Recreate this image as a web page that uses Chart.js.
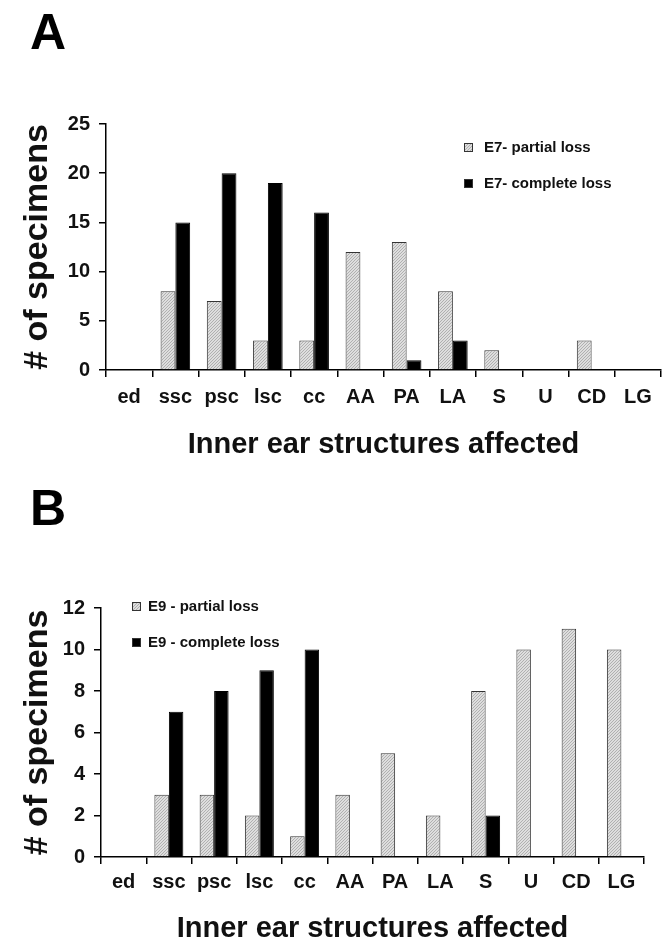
<!DOCTYPE html>
<html>
<head>
<meta charset="utf-8">
<script src="https://cdn.jsdelivr.net/npm/chart.js@4.4.1/dist/chart.umd.min.js"></script>
<style>
  html, body { margin: 0; padding: 0; background: #fff; }
  canvas { display: block; }
</style>
</head>
<body>
<canvas id="chartA" width="662" height="470"></canvas>
<canvas id="chartB" width="662" height="474"></canvas>
<script>
// data
const structures = ['ed', 'ssc', 'psc', 'lsc', 'cc', 'AA', 'PA', 'LA', 'S', 'U', 'CD', 'LG'];
const e7Partial  = [0, 8, 7, 3, 3, 12, 13, 8, 2, 0, 3, 0];
const e7Complete = [0, 15, 20, 19, 16, 0, 1, 3, 0, 0, 0, 0];
const e9Partial  = [0, 3, 3, 2, 1, 3, 5, 2, 8, 10, 11, 10];
const e9Complete = [0, 7, 8, 9, 10, 0, 0, 0, 2, 0, 0, 0];
const e7Max = 25, e7Step = 5;
const e9Max = 12, e9Step = 2;

const FONT = '"Liberation Sans", Arial, Helvetica, sans-serif';

// light grey stippled fill used for the "partial loss" bars
const hatchFor = (canvas) => {
    const tile = document.createElement('canvas');
    tile.width = 3; tile.height = 3;
    const g = tile.getContext('2d');
    g.fillStyle = '#dedede';
    g.fillRect(0, 0, 3, 3);
    g.fillStyle = '#b0b0b0';
    for (let i = 0; i < 3; i++) g.fillRect(i, 2 - i, 1, 1);
    return canvas.getContext('2d').createPattern(tile, 'repeat');
};

// panel letter + the small boxed legend
const panelDecor = {
    id: 'panelDecor',
    afterDraw(chart, args, opts) {
        const { ctx } = chart;
        ctx.save();
        ctx.fillStyle = '#000';
        ctx.textBaseline = 'middle';
        ctx.font = `bold 50px ${FONT}`;
        ctx.fillText(opts.letter, opts.letterX, opts.letterY);

        ctx.font = `bold 15px ${FONT}`;
        chart.data.datasets.forEach((ds, i) => {
            const y = opts.legendY + i * opts.legendGap;
            ctx.fillStyle = ds.backgroundColor;
            ctx.fillRect(opts.legendX, y - 4, 9, 9);
            ctx.strokeStyle = '#333';
            ctx.lineWidth = 1;
            ctx.strokeRect(opts.legendX + 0.5, y - 3.5, 8, 8);
            ctx.fillStyle = '#111';
            ctx.fillText(ds.label, opts.legendX + opts.textGap, y + 1);
        });
        ctx.restore();
    }
};

const makePanel = (id, cfg) => {
    const canvas = document.getElementById(id);
    const hatch = hatchFor(canvas);
    return new Chart(canvas, {
        type: 'bar',
        data: {
            labels: structures,
            datasets: [{
                label: cfg.partialLabel,
                data: cfg.partial,
                backgroundColor: hatch,
                borderColor: '#333',
                borderWidth: 1
            }, {
                label: cfg.completeLabel,
                data: cfg.complete,
                backgroundColor: '#000',
                borderColor: '#000',
                borderWidth: 1
            }]
        },
        options: {
            responsive: false,
            animation: false,
            devicePixelRatio: 1,
            categoryPercentage: 0.64,
            barPercentage: 1.0,
            layout: { padding: cfg.padding },
            plugins: {
                legend: { display: false },
                tooltip: { enabled: false },
                panelDecor: cfg.decor
            },
            scales: {
                x: {
                    afterFit: (scale) => { scale.height = cfg.xHeight; },
                    border: { display: true, color: '#000', width: 1.5 },
                    grid: { display: true, drawOnChartArea: false, drawTicks: true, tickLength: 7, color: '#000', lineWidth: 1.5 },
                    ticks: { color: '#111', padding: cfg.xTickPad, maxRotation: 0, font: { family: FONT, size: 20, weight: 'bold' } },
                    title: {
                        display: true,
                        text: 'Inner ear structures affected',
                        color: '#111',
                        font: { family: FONT, size: 29, weight: 'bold', lineHeight: 1 },
                        padding: { top: 0, bottom: cfg.xTitlePad }
                    }
                },
                y: {
                    min: 0,
                    max: cfg.max,
                    afterFit: (scale) => { scale.width = cfg.yWidth; },
                    border: { display: true, color: '#000', width: 1.5 },
                    grid: { display: true, drawOnChartArea: false, drawTicks: true, tickLength: 7, color: '#000', lineWidth: 1.5 },
                    ticks: { stepSize: cfg.step, color: '#111', padding: 9, font: { family: FONT, size: 20, weight: 'bold' } },
                    title: {
                        display: true,
                        text: '# of specimens',
                        color: '#111',
                        font: { family: FONT, size: 34, weight: 'bold', lineHeight: 1 },
                        padding: { top: 21, bottom: 0 }
                    }
                }
            }
        },
        plugins: [panelDecor]
    });
};

makePanel('chartA', {
    partial: e7Partial,
    complete: e7Complete,
    partialLabel: 'E7- partial loss',
    completeLabel: 'E7- complete loss',
    max: e7Max,
    step: e7Step,
    padding: { top: 124, right: 1, left: 0, bottom: 0 },
    yWidth: 106,
    xHeight: 100,
    xTickPad: 8,
    xTitlePad: 11,
    decor: { letter: 'A', letterX: 30, letterY: 35, legendX: 464, legendY: 147, legendGap: 36, textGap: 20 }
});

makePanel('chartB', {
    partial: e9Partial,
    complete: e9Complete,
    partialLabel: 'E9 - partial loss',
    completeLabel: 'E9 - complete loss',
    max: e9Max,
    step: e9Step,
    padding: { top: 138, right: 18, left: 0, bottom: 0 },
    yWidth: 101,
    xHeight: 87,
    xTickPad: 6,
    xTitlePad: 1,
    decor: { letter: 'B', letterX: 30, letterY: 41, legendX: 132, legendY: 136, legendGap: 36, textGap: 16 }
});
</script>
</body>
</html>
